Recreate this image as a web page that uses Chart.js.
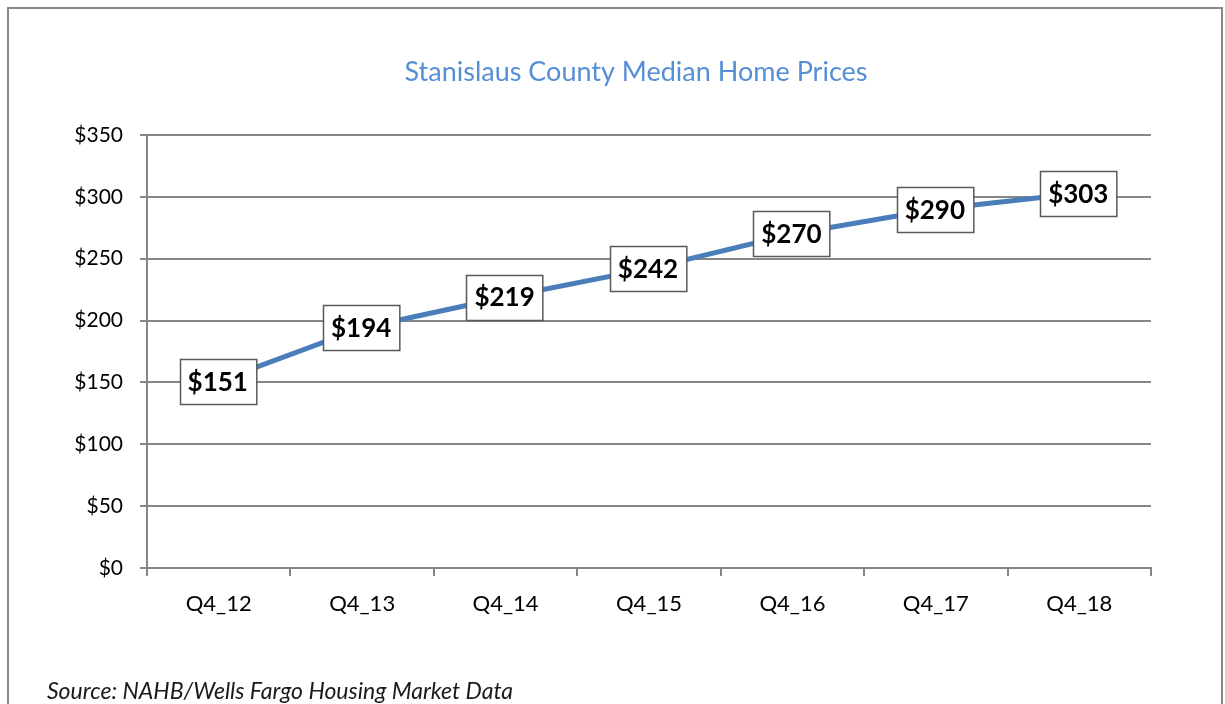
<!DOCTYPE html>
<html><head><meta charset="utf-8">
<script src="https://cdn.jsdelivr.net/npm/chart.js@4/dist/chart.umd.min.js"></script>
<style>html,body{margin:0;padding:0;background:#fff;}#wrap{position:relative;width:1225px;height:704px;}</style>
</head><body><div id="wrap"><canvas id="c" width="1225" height="704"></canvas></div>
<script>
const categories = ["Q4_12","Q4_13","Q4_14","Q4_15","Q4_16","Q4_17","Q4_18"];
const prices = [151,194,219,242,270,290,303];
const yTicks = [0,50,100,150,200,250,300,350];
const titleText = "Stanislaus County Median Home Prices";
const sourceText = "Source: NAHB/Wells Fargo Housing Market Data";
const FONT = "Lato, 'Open Sans', sans-serif";

const decor = {
  id: 'decor',
  beforeDraw(chart){
    const ctx = chart.ctx;
    ctx.save();
    ctx.fillStyle = '#fff';
    ctx.fillRect(0,0,chart.width,chart.height);
    ctx.strokeStyle = '#898989';
    ctx.lineWidth = 2;
    ctx.strokeRect(8,8,1214,760);
    ctx.fillStyle = '#558ed5';
    ctx.font = "27px " + FONT;
    ctx.textAlign = 'center';
    ctx.textBaseline = 'middle';
    ctx.fillText(titleText, 636, 72);
    ctx.fillStyle = '#1a1a1a';
    ctx.font = "italic 23px " + FONT;
    ctx.textAlign = 'left';
    ctx.fillText(sourceText, 47, 692);
    ctx.restore();
  },
  afterDatasetsDraw(chart){
    const ctx = chart.ctx;
    const meta = chart.getDatasetMeta(0);
    ctx.save();
    ctx.font = "bold 26px " + FONT;
    ctx.textAlign = 'center';
    ctx.textBaseline = 'middle';
    meta.data.forEach((pt, i) => {
      const txt = '$' + prices[i];
      const w = ctx.measureText(txt).width + 16;
      const h = 45;
      const x = Math.round(pt.x - w/2) - 0.5, y = Math.round(pt.y - h/2) + 0.5;
      ctx.fillStyle = '#fff';
      ctx.fillRect(x, y, w, h);
      ctx.strokeStyle = '#595959';
      ctx.lineWidth = 1.5;
      ctx.strokeRect(x, y, w, h);
      ctx.fillStyle = '#000';
      ctx.fillText(txt, pt.x - 1, pt.y + 1);
    });
    ctx.restore();
  }
};

new Chart(document.getElementById('c'), {
  type: 'line',
  data: {
    labels: categories,
    datasets: [{
      data: prices,
      borderColor: '#4a7ebb',
      borderWidth: 5,
      pointRadius: 0,
      tension: 0,
      fill: false
    }]
  },
  options: {
    responsive: false,
    animation: false,
    devicePixelRatio: 1,
    layout: { padding: { left: 20, right: 74, top: 135, bottom: 0 } },
    plugins: { legend: { display: false }, title: { display: false }, tooltip: { enabled: false } },
    scales: {
      x: {
        offset: true,
        grid: { offset: true, drawOnChartArea: false, color: '#868686', lineWidth: 2, tickLength: 8 },
        border: { display: true, color: '#868686', width: 2 },
        ticks: { color: '#000', font: { family: FONT, size: 22 }, padding: 15, maxRotation: 0 },
        afterFit(s){ s.height = 136; }
      },
      y: {
        min: 0, max: 350,
        afterBuildTicks(s){ s.ticks = yTicks.map(v => ({ value: v })); },
        grid: { color: '#868686', lineWidth: 2, tickLength: 7 },
        border: { display: true, color: '#868686', width: 2 },
        ticks: { color: '#000', font: { family: FONT, size: 21 }, padding: 17, callback: v => '$' + v },
        afterFit(s){ s.width = 127; }
      }
    }
  },
  plugins: [decor]
});
</script></body></html>
